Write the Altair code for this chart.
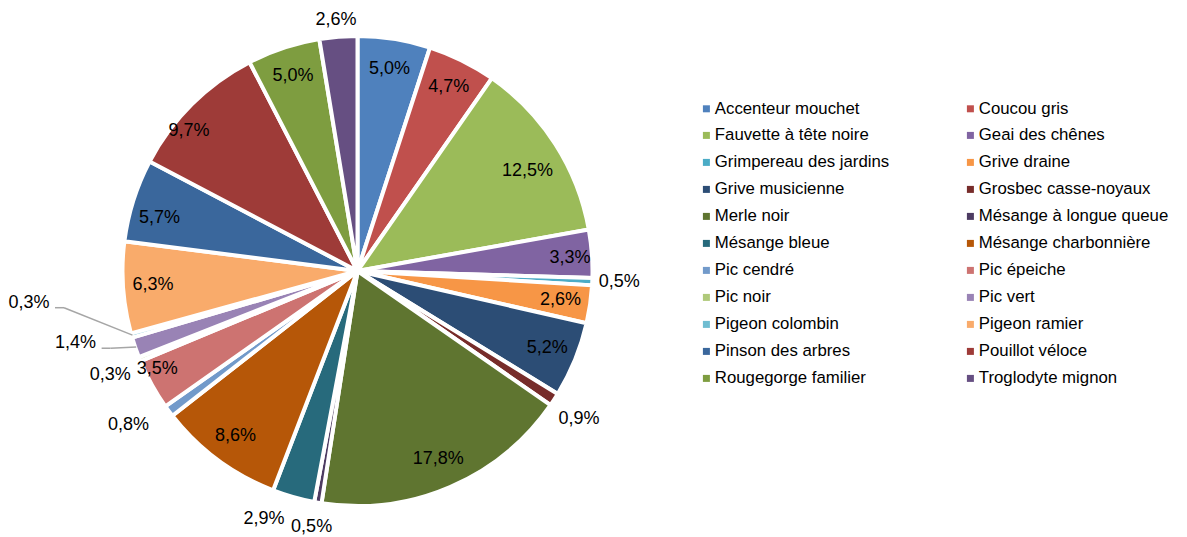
import altair as alt
import pandas as pd
import numpy as np

names = ["Accenteur mouchet", "Coucou gris", "Fauvette à tête noire", "Geai des chênes",
         "Grimpereau des jardins", "Grive draine", "Grive musicienne", "Grosbec casse-noyaux",
         "Merle noir", "Mésange à longue queue", "Mésange bleue", "Mésange charbonnière",
         "Pic cendré", "Pic épeiche", "Pic noir", "Pic vert", "Pigeon colombin",
         "Pigeon ramier", "Pinson des arbres", "Pouillot véloce", "Rougegorge familier",
         "Troglodyte mignon"]
values = [5.0, 4.7, 12.5, 3.3, 0.5, 2.6, 5.2, 0.9, 17.8, 0.5, 2.9, 8.6,
          0.8, 3.5, 0.3, 1.4, 0.3, 6.3, 5.7, 9.7, 5.0, 2.6]
colors = ["#4F81BD", "#C0504D", "#9BBB59", "#8064A2", "#4BACC6", "#F79646",
          "#2C4D75", "#772C2A", "#5F7530", "#4D3B62", "#276A7C", "#B65708",
          "#729ACA", "#CD7371", "#AFC97A", "#9983B5", "#6FBDD1", "#F9AB6B",
          "#3A679C", "#9E3B38", "#7E9D40", "#664F82"]

FONT = "Liberation Sans, Arial"
W, H = 1171, 528
CX, CY, R = 349.5, 263, 235

# ---- label placement rules (layout only) ----
# outside labels: (angle nudge in degrees, anchor radius)
outside = {"Grimpereau des jardins": (0, 240), "Grosbec casse-noyaux": (1.7, 248),
           "Mésange à longue queue": (0, 250), "Mésange bleue": (4, 254),
           "Pic cendré": (1.5, 258), "Pic noir": (-1.7, 248),
           "Troglodyte mignon": (0, 242)}
# inside labels with best-fit adjustments: (angle nudge, radius); default (0, 205)
inside_adj = {"Fauvette à tête noire": (2.3, 197), "Pic épeiche": (2.7, 223),
              "Pouillot véloce": (-5.5, 219), "Pinson des arbres": (-2.6, 205),
              "Geai des chênes": (0.7, 213)}
# labels with leader lines: (angle nudge, radius)
leader = {"Pic vert": (4.6, 291), "Pigeon colombin": (10.4, 330)}

vals = np.array(values)
total = vals.sum()
mid = (np.cumsum(vals) - vals / 2) / total * 2 * np.pi

rows, segs = [], []
for i, (n, v) in enumerate(zip(names, values)):
    th = mid[i]
    lab = f"{v:.1f}".replace(".", ",") + "%"
    if n in leader:
        d, r = leader[n]
        t2 = th + np.radians(d)
        lx, ly = CX + r * np.sin(t2), CY - r * np.cos(t2)
        ex, ey = CX + (R - 1) * np.sin(th), CY - (R - 1) * np.cos(th)
        sx, sy = lx + 26, ly + 5
        segs.append(dict(x=sx, y=sy, x2=sx + 9, y2=sy))
        segs.append(dict(x=sx + 9, y=sy, x2=ex, y2=ey))
    elif n in outside:
        d, ra = outside[n]
        t2 = th + np.radians(d)
        s, c = np.sin(t2), np.cos(t2)
        lx, ly = CX + ra * s + 22 * s, CY - ra * c - 10 * c
    else:
        d, r = inside_adj.get(n, (0, 205))
        t2 = th + np.radians(d)
        lx, ly = CX + r * np.sin(t2), CY - r * np.cos(t2)
    rows.append(dict(name=n, value=v, idx=i, lab=lab, lx=lx, ly=ly))

df = pd.DataFrame(rows)
seg_df = pd.DataFrame(segs)

# legend is filled column by column: order the domain so it reads row by row
leg_order = list(range(0, len(names), 2)) + list(range(1, len(names), 2))
dom = [names[k] for k in leg_order]
rng = [colors[k] for k in leg_order]

xs = alt.Scale(domain=[0, W], range=[0, W])
ys = alt.Scale(domain=[0, H], range=[0, H])

arcs = alt.Chart(df).mark_arc(outerRadius=R, stroke="white", strokeWidth=4).encode(
    x=alt.value(CX), y=alt.value(CY),
    theta=alt.Theta("value:Q", stack=True),
    order=alt.Order("idx:Q"),
    color=alt.Color("name:N", scale=alt.Scale(domain=dom, range=rng),
                    legend=alt.Legend(orient="none", legendX=690, legendY=92, columns=2,
                                      title=None, symbolType="square", symbolSize=49,
                                      symbolStrokeWidth=0, labelFont=FONT, labelFontSize=16.8,
                                      labelColor="#000000", labelLimit=0, labelOffset=0,
                                      columnPadding=72, rowPadding=9.0)),
)

labels = alt.Chart(df).mark_text(font=FONT, fontSize=18, color="#000000").encode(
    x=alt.X("lx:Q", scale=xs, axis=None),
    y=alt.Y("ly:Q", scale=ys, axis=None),
    text="lab:N",
)

lines = alt.Chart(seg_df).mark_rule(color="#A6A6A6", strokeWidth=1.5).encode(
    x=alt.X("x:Q", scale=xs, axis=None),
    y=alt.Y("y:Q", scale=ys, axis=None),
    x2="x2:Q", y2="y2:Q",
)

chart = alt.layer(arcs, lines, labels).properties(
    width=W, height=H, padding=0, autosize=alt.AutoSizeParams(type="none")
).configure_view(stroke=None)

chart.save("out.html", embed_options={"renderer": "svg", "actions": False})
